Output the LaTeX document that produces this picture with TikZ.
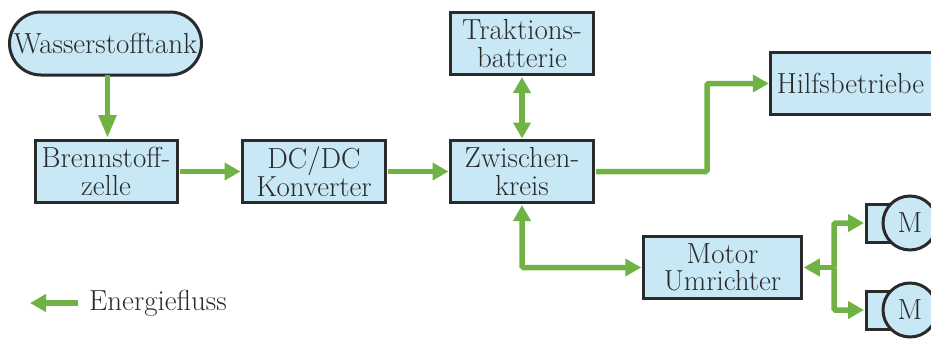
\documentclass[tikz,border=0pt]{standalone}
\usetikzlibrary{arrows.meta,shapes.misc,calc}
\definecolor{boxfill}{HTML}{C8E8F5}
\definecolor{flow}{HTML}{70B244}
\definecolor{ink}{HTML}{2A2A2A}
\newcommand{\diagramfont}{\fontsize{29}{27.5}\selectfont\setlength{\lineskiplimit}{-50pt}}
\tikzset{
  bigfont/.style={font=\diagramfont},
  blockbox/.style={draw=ink,fill=boxfill,line width=3pt,text=ink,align=center,inner sep=0pt,outer sep=0pt,minimum height=62pt,bigfont},
  tankbox/.style={blockbox,rounded rectangle,minimum width=192pt,minimum height=63pt},
  motorbody/.style={draw=ink,fill=boxfill,line width=3pt,minimum width=36pt,minimum height=38pt,inner sep=0pt,outer sep=0pt},
  motorhead/.style={circle,draw=ink,fill=boxfill,line width=3pt,minimum size=54pt,inner sep=0pt,text=ink,bigfont},
  flowline/.style={draw=flow,line width=5.5pt,rounded corners=1.5pt,shorten >=2pt,-{Triangle[length=16pt,width=17pt]}},
  flowlong/.style={flowline,shorten >=2.5pt,-{Triangle[length=23pt,width=17pt]}},
  fromnode/.style={shorten <=2.5pt},
  flowboth/.style={flowline,fromnode,{Triangle[length=16pt,width=17pt]}-{Triangle[length=16pt,width=17pt]}},
  labeltext/.style={text=ink,inner sep=0pt,bigfont}
}
\begin{document}
\begin{tikzpicture}[x=1pt,y=-1pt]
\useasboundingbox (0,0) rectangle (931,338);
\clip (0,0) rectangle (931,338);
\node[tankbox] (tank) at (105.5,43.5) {Wasserstofftank};
\node[blockbox,minimum width=142pt] (fc) at (106,171.5) {Brennstoff-\\zelle};
\node[blockbox,minimum width=143pt] (dc) at (314,171.5) {DC/DC\\Konverter};
\node[blockbox,minimum width=143pt] (zk) at (522,171.5) {Zwischen-\\kreis};
\node[blockbox,minimum width=143pt] (tb) at (522,43.5) {Traktions-\\batterie};
\node[blockbox,minimum width=163pt] (hb) at (852.3,83.5) {Hilfsbetriebe\hspace*{3.6pt}};
\node[blockbox,minimum width=158.5pt] (mu) at (722.5,267.5) {Motor\\Umrichter};
\node[motorbody] (b1) at (884,223) {};
\node[motorbody] (b2) at (884,310) {};
\node[motorhead] (m1) at (910,223) {M};
\node[motorhead] (m2) at (910,310) {M};
\coordinate (bus) at (834,267.5);
\coordinate (la) at (78,303);
\coordinate (lb) at (28,303);
\node[labeltext,anchor=west] (leg) at (89,303) {Energiefluss};
\draw[flowlong] ([xshift=2pt]tank.south) -- ([xshift=2pt]tank.south |- fc.north);
\draw[flowline,fromnode] (fc) -- (dc);
\draw[flowline,fromnode] (dc) -- (zk);
\draw[flowboth] (tb) -- (zk);
\draw[flowline,fromnode] (zk.east) -- (707,171.5) -- (707,83.5) -- (hb.west);
\draw[flowboth] (zk.south) -- (zk.south |- mu.west) -- (mu.west);
\draw[flowline] (bus) -- (mu.east);
\draw[flowline] (bus) -- (bus |- b1.west) -- (b1.west);
\draw[flowline] (bus) -- (bus |- b2.west) -- (b2.west);
\draw[flowline] (la) -- (lb);
\end{tikzpicture}
\end{document}
